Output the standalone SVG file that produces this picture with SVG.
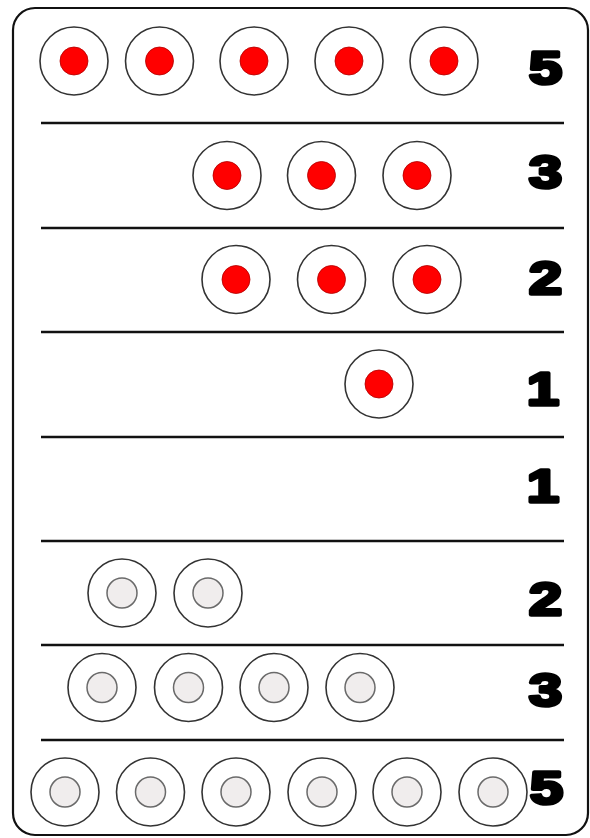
<svg xmlns="http://www.w3.org/2000/svg" width="590" height="838" viewBox="0 0 590 838">
<defs>
<style>
.frame{fill:#fff;stroke:#111;stroke-width:2.2}
.sep{stroke:#111;stroke-width:2.6}
.outer{fill:#fff;stroke:#333;stroke-width:1.6}
.red{fill:#ff0000;stroke:#b00000;stroke-width:0.8}
.grey{fill:#f0eded;stroke:#6a6a6a;stroke-width:1.5}
.num{font-family:"Liberation Sans",Arial,sans-serif;font-weight:bold;font-size:47px;fill:#000;stroke:#000;stroke-width:3.6;stroke-linejoin:round}
</style>
<g id="tr"><circle class="outer" r="34"/><circle class="red" r="14"/></g>
<g id="tg"><circle class="outer" r="34"/><circle class="grey" r="15"/></g>
</defs>
<rect class="frame" x="13" y="8" width="575" height="827" rx="22"/>
<g id="connectors">
<line class="sep" x1="41" y1="123" x2="564" y2="123"/>
<line class="sep" x1="41" y1="228" x2="564" y2="228"/>
<line class="sep" x1="41" y1="332" x2="564" y2="332"/>
<line class="sep" x1="41" y1="437" x2="564" y2="437"/>
<line class="sep" x1="41" y1="541" x2="564" y2="541"/>
<line class="sep" x1="41" y1="645" x2="564" y2="645"/>
<line class="sep" x1="41" y1="740" x2="564" y2="740"/>
</g>
<g id="row1">
<use href="#tr" x="74" y="61"/><use href="#tr" x="159.5" y="61"/><use href="#tr" x="254" y="61"/><use href="#tr" x="349" y="61"/><use href="#tr" x="444" y="61"/>
<text class="num" x="529" y="83.5" textLength="33" lengthAdjust="spacingAndGlyphs">5</text>
</g>
<g id="row2">
<use href="#tr" x="227" y="175.5"/><use href="#tr" x="321.5" y="175.5"/><use href="#tr" x="417" y="175.5"/>
<text class="num" x="529" y="187.5" textLength="33" lengthAdjust="spacingAndGlyphs">3</text>
</g>
<g id="row3">
<use href="#tr" x="236" y="279.5"/><use href="#tr" x="331.5" y="279.5"/><use href="#tr" x="427" y="279.5"/>
<text class="num" x="529" y="293.5" textLength="33" lengthAdjust="spacingAndGlyphs">2</text>
</g>
<g id="row4">
<use href="#tr" x="379" y="384"/>
<text class="num" x="527" y="405" textLength="32" lengthAdjust="spacingAndGlyphs">1</text>
</g>
<g id="row5">
<text class="num" x="527" y="501.5" textLength="32" lengthAdjust="spacingAndGlyphs">1</text>
</g>
<g id="row6">
<use href="#tg" x="122" y="593"/><use href="#tg" x="208" y="593"/>
<text class="num" x="529" y="614.5" textLength="33" lengthAdjust="spacingAndGlyphs">2</text>
</g>
<g id="row7">
<use href="#tg" x="102" y="687.5"/><use href="#tg" x="188.5" y="687.5"/><use href="#tg" x="274" y="687.5"/><use href="#tg" x="360" y="687.5"/>
<text class="num" x="529" y="705.5" textLength="33" lengthAdjust="spacingAndGlyphs">3</text>
</g>
<g id="row8">
<use href="#tg" x="65" y="792"/><use href="#tg" x="150.5" y="792"/><use href="#tg" x="236" y="792"/><use href="#tg" x="322" y="792"/><use href="#tg" x="407" y="792"/><use href="#tg" x="493" y="792"/>
<text class="num" x="530" y="803.5" textLength="33" lengthAdjust="spacingAndGlyphs">5</text>
</g>
</svg>
